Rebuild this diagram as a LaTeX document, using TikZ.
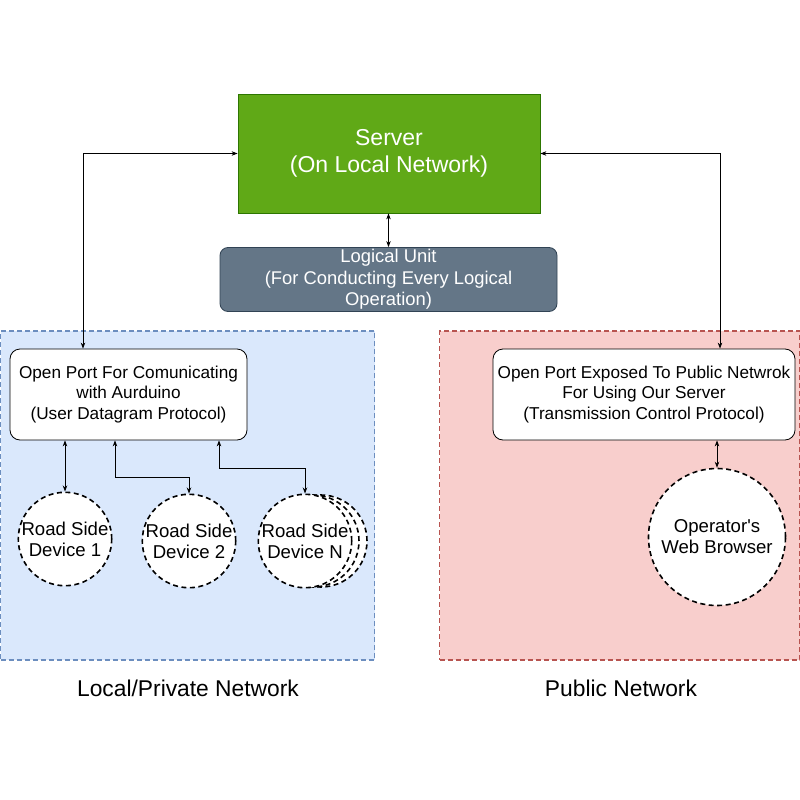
\documentclass[tikz,border=0pt]{standalone}
\usepackage{fontspec}
\setmainfont{Liberation Sans}
\usetikzlibrary{arrows.meta}
\definecolor{srvfill}{HTML}{60A917}
\definecolor{srvline}{HTML}{2D7600}
\definecolor{lufill}{HTML}{647687}
\definecolor{luline}{HTML}{314354}
\definecolor{bluefill}{HTML}{DAE8FC}
\definecolor{blueline}{HTML}{6C8EBF}
\definecolor{redfill}{HTML}{F8CECC}
\definecolor{redline}{HTML}{B85450}
\tikzset{
  box/.style={rectangle, inner sep=0pt, align=center},
  zone/.style={rectangle, inner sep=0pt, line width=1.3pt, dash pattern=on 5pt off 3pt},
  portbox/.style={box, draw=black, fill=white, rounded corners=10pt, line width=0.8pt, minimum width=#1, minimum height=91pt, font=\fontsize{17.2}{20.5}\selectfont},
  dev/.style={circle, draw=black, fill=white, line width=1.6pt, dash pattern=on 5pt off 3.5pt, inner sep=0pt, minimum size=#1, align=center, font=\fontsize{18.6}{21}\selectfont},
  arr/.style={line width=0.8pt, {Stealth[length=6pt,width=4.5pt]}-{Stealth[length=6pt,width=4.5pt]}},
  lbl/.style={font=\fontsize{22.8}{24}\selectfont}
}
\begin{document}
\begin{tikzpicture}[x=1pt,y=-1pt]
\useasboundingbox (0,0) rectangle (800,800);
\fill[white] (0,0) rectangle (800,800);
% zones
\node[zone, draw=blueline, fill=bluefill, minimum width=374pt, minimum height=329pt] (lzone) at (187.5,495.5) {};
\node[zone, draw=redline, fill=redfill, minimum width=360pt, minimum height=329pt] (rzone) at (619.5,495.5) {};
% server and logic
\node[box, draw=srvline, fill=srvfill, text=white, minimum width=302pt, minimum height=119pt, line width=0.8pt, font=\fontsize{23}{27}\selectfont] (srv) at (389,153.5) {Server\\(On Local Network)};
\node[box, draw=luline, fill=lufill, text=white, rounded corners=8pt, minimum width=337pt, minimum height=64pt, line width=0.8pt, font=\fontsize{18.4}{21.5}\selectfont] (lu) at (388.5,279.5) {Logical Unit\\(For Conducting Every Logical\\Operation)};
% ports
\node[portbox=237pt] (lport) at (128.5,394.5) {Open Port For Comunicating\\with Aurduino\\(User Datagram Protocol)};
\node[portbox=302pt] (rport) at (644,394.5) {Open Port Exposed To Public Netwrok\\For Using Our Server\\(Transmission Control Protocol)};
% devices
\node[dev=92pt] (d1) at (65,539) {Road Side\\Device 1};
\node[dev=92pt] (d2) at (189,541) {Road Side\\Device 2};
\node[dev=92pt] (dNb) at (321,541) {};
\node[dev=92pt] (dNa) at (313,541) {};
\node[dev=92pt] (dN) at (305,541) {Road Side\\Device N};
\node[dev=137pt] (web) at (717,537) {Operator\textquotesingle s\\Web Browser};
% labels
\node[lbl] (llbl) at (188,688) {Local/Private Network};
\node[lbl] (rlbl) at (621,688) {Public Network};
% connectors
\draw[arr] (srv.south -| lu.north) -- (lu.north);
\draw[arr] ([xshift=-45.5pt]lport.north) |- (srv.west);
\draw[arr] (srv.east) -| ([xshift=76pt]rport.north);
\draw[arr] (lport.south -| d1.north) -- (d1.north);
\draw[arr] ([xshift=-13.5pt]lport.south) -- ++(0,37) -| (d2.north);
\draw[arr] ([xshift=90.5pt]lport.south) -- ++(0,28) -| (dN.north);
\draw[arr] (rport.south -| web.north) -- (web.north);
\end{tikzpicture}
\end{document}
